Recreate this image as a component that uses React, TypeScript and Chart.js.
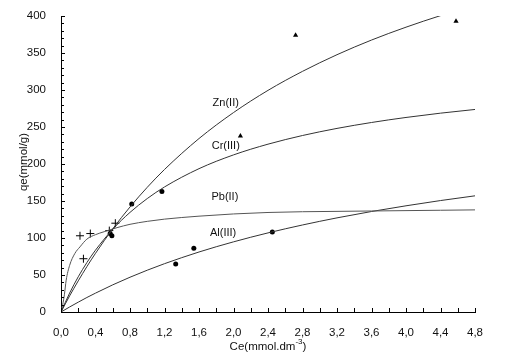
import React, { useEffect, useRef } from "react";
import { Chart, registerables } from "chart.js";

Chart.register(...registerables);

// Fitted isotherm curves
const curveC = [0, 0.1, 0.2, 0.3, 0.4, 0.6, 0.8, 1.0, 1.2, 1.6, 2.0, 2.4, 2.8, 3.2, 3.6, 4.0, 4.4, 4.8];
const znCurveQ = [0, 21.8, 42.1, 61.3, 79.3, 112.4, 141.9, 168.5, 192.6, 234.4, 269.5, 299.5, 325.2, 347.7, 367.5, 384.9, 400.5, 414.5];
const crCurveQ = [0, 25.6, 47.6, 66.8, 83.6, 111.9, 134.6, 153.3, 169.0, 193.7, 212.3, 226.8, 238.5, 248.1, 256.1, 262.9, 268.7, 273.7];
const alCurveQ = [0, 6.8, 13.3, 19.6, 25.5, 36.7, 47.0, 56.5, 65.3, 81.1, 94.8, 106.9, 117.6, 127.2, 135.8, 143.5, 150.6, 157.0];
const pbCurveC = [0, 0.02, 0.04, 0.06, 0.1, 0.16, 0.22, 0.3, 0.4, 0.5, 0.65, 0.8, 1.0, 1.2, 1.6, 2.0, 2.4, 2.8, 3.2, 3.6, 4.0, 4.4, 4.8];
const pbCurveQ = [0, 10, 24, 43, 63, 79, 88, 98.5, 104.5, 108.5, 114, 118.5, 122.5, 125.5, 129.5, 132.5, 134.5, 135.5, 136, 136.5, 137, 137.5, 138];

// Experimental points
const znPointsC = [2.08, 2.72, 4.58];
const znPointsQ = [238, 374, 393];
const crPointsC = [0.57, 0.59, 0.82, 1.17];
const crPointsQ = [106, 103, 146, 163];
const pbPointsC = [0.22, 0.26, 0.34, 0.56, 0.63];
const pbPointsQ = [103, 72, 106, 110, 120];
const alPointsC = [1.33, 1.54, 2.45];
const alPointsQ = [65, 86, 108];

// Curve labels
const labelTexts = ["Zn(II)", "Cr(III)", "Pb(II)", "Al(III)"];
const labelC = [1.91, 1.91, 1.90, 1.88];
const labelQ = [282, 224, 155, 107];

const xTitle = "Ce(mmol.dm";
const xTitleSup = "-3";
const yTitle = "qe(mmol/g)";

const FONT = "'Liberation Sans', Arial, sans-serif";
const TEXT = "#111";

const pts = (xs: number[], ys: number[]) => xs.map((x, i) => ({ x, y: ys[i] }));

const decorPlugin = {
  id: "decor",
  afterDraw(chart: any) {
    const ctx = chart.ctx;
    const xs = chart.scales.x;
    const ys = chart.scales.y;
    const { left, right, top, bottom } = chart.chartArea;
    ctx.save();
    // inward ticks
    ctx.strokeStyle = "#000";
    ctx.lineWidth = 1;
    ctx.beginPath();
    for (let i = 0; i <= 24; i++) {
      const px = Math.round(xs.getPixelForValue(i * 0.2)) + 0.5;
      ctx.moveTo(px, bottom);
      ctx.lineTo(px, bottom - 4);
    }
    for (let i = 0; i <= 40; i++) {
      const py = Math.round(ys.getPixelForValue(i * 10)) + 0.5;
      const len = i % 5 === 0 ? 4 : 3;
      ctx.moveTo(left, py);
      ctx.lineTo(left + len, py);
    }
    ctx.stroke();

    // curve labels
    ctx.fillStyle = TEXT;
    ctx.font = `11px ${FONT}`;
    ctx.textAlign = "center";
    ctx.textBaseline = "middle";
    labelTexts.forEach((t, i) => {
      ctx.fillText(t, xs.getPixelForValue(labelC[i]), ys.getPixelForValue(labelQ[i]));
    });

    // x title with superscript
    ctx.font = `11.5px ${FONT}`;
    const mainW = ctx.measureText(xTitle).width;
    ctx.font = `8px ${FONT}`;
    const supW = ctx.measureText(xTitleSup).width;
    ctx.font = `11.5px ${FONT}`;
    const closeW = ctx.measureText(")").width;
    const total = mainW + supW + closeW;
    const cx = (left + right) / 2;
    let x0 = cx - total / 2;
    const ty = 347;
    ctx.textAlign = "left";
    ctx.fillText(xTitle, x0, ty);
    x0 += mainW;
    ctx.font = `8px ${FONT}`;
    ctx.fillText(xTitleSup, x0, ty - 5);
    x0 += supW;
    ctx.font = `11.5px ${FONT}`;
    ctx.fillText(")", x0, ty);

    // y title
    ctx.translate(24, (top + bottom) / 2 - 2);
    ctx.rotate(-Math.PI / 2);
    ctx.textAlign = "center";
    ctx.fillText(yTitle, 0, 0);
    ctx.restore();
  },
};

export default function App() {
  const ref = useRef<HTMLCanvasElement | null>(null);
  useEffect(() => {
    if (!ref.current) return;
    const curveStyle = {
      type: "line" as const,
      showLine: true,
      pointRadius: 0,
      borderColor: "#333",
      borderWidth: 1,
      fill: false,
      cubicInterpolationMode: "monotone" as const,
    };
    const chart = new Chart(ref.current, {
      type: "scatter",
      data: {
        datasets: [
          { ...curveStyle, label: "Zn curve", data: pts(curveC, znCurveQ) },
          { ...curveStyle, label: "Cr curve", data: pts(curveC, crCurveQ) },
          { ...curveStyle, label: "Pb curve", data: pts(pbCurveC, pbCurveQ), borderColor: "#555" },
          { ...curveStyle, label: "Al curve", data: pts(curveC, alCurveQ) },
          {
            label: "Zn(II)",
            data: pts(znPointsC, znPointsQ),
            pointStyle: "triangle",
            pointRadius: 3,
            backgroundColor: "#000",
            borderColor: "#000",
            borderWidth: 0,
          },
          {
            label: "Cr(III)",
            data: pts(crPointsC, crPointsQ),
            pointStyle: "circle",
            pointRadius: 2.5,
            backgroundColor: "#000",
            borderColor: "#000",
            borderWidth: 0,
          },
          {
            label: "Pb(II)",
            data: pts(pbPointsC, pbPointsQ),
            pointStyle: "cross",
            pointRadius: 4,
            backgroundColor: "#000",
            borderColor: "#000",
            borderWidth: 1,
          },
          {
            label: "Al(III)",
            data: pts(alPointsC, alPointsQ),
            pointStyle: "circle",
            pointRadius: 2.5,
            backgroundColor: "#000",
            borderColor: "#000",
            borderWidth: 0,
          },
        ],
      },
      options: {
        animation: false,
        responsive: false,
        devicePixelRatio: 1,
        layout: { padding: { left: 0, top: 16, right: 41, bottom: 0 } },
        plugins: {
          legend: { display: false },
          tooltip: { enabled: false },
        },
        scales: {
          x: {
            type: "linear",
            min: 0,
            max: 4.8,
            grid: { display: false },
            border: { display: true, color: "#000", width: 1 },
            ticks: {
              stepSize: 0.4,
              autoSkip: false,
              maxRotation: 0,
              padding: 6,
              color: TEXT,
              font: { family: FONT, size: 11.5 },
              callback: (v: any) => Number(v).toFixed(1).replace(".", ","),
            },
            afterFit: (s: any) => {
              s.height = 47;
            },
          },
          y: {
            type: "linear",
            min: 0,
            max: 400,
            grid: { display: false },
            border: { display: true, color: "#000", width: 1 },
            ticks: {
              stepSize: 50,
              padding: 7,
              color: TEXT,
              font: { family: FONT, size: 11.5 },
            },
            afterFit: (s: any) => {
              s.width = 61;
            },
          },
        },
      },
      plugins: [decorPlugin],
    } as any);
    return () => chart.destroy();
  }, []);
  return (
    <div style={{ position: "fixed", left: 0, top: 0, width: 516, height: 359, background: "#fff" }}>
      <canvas ref={ref} width={516} height={359} style={{ width: 516, height: 359, display: "block" }} />
    </div>
  );
}
